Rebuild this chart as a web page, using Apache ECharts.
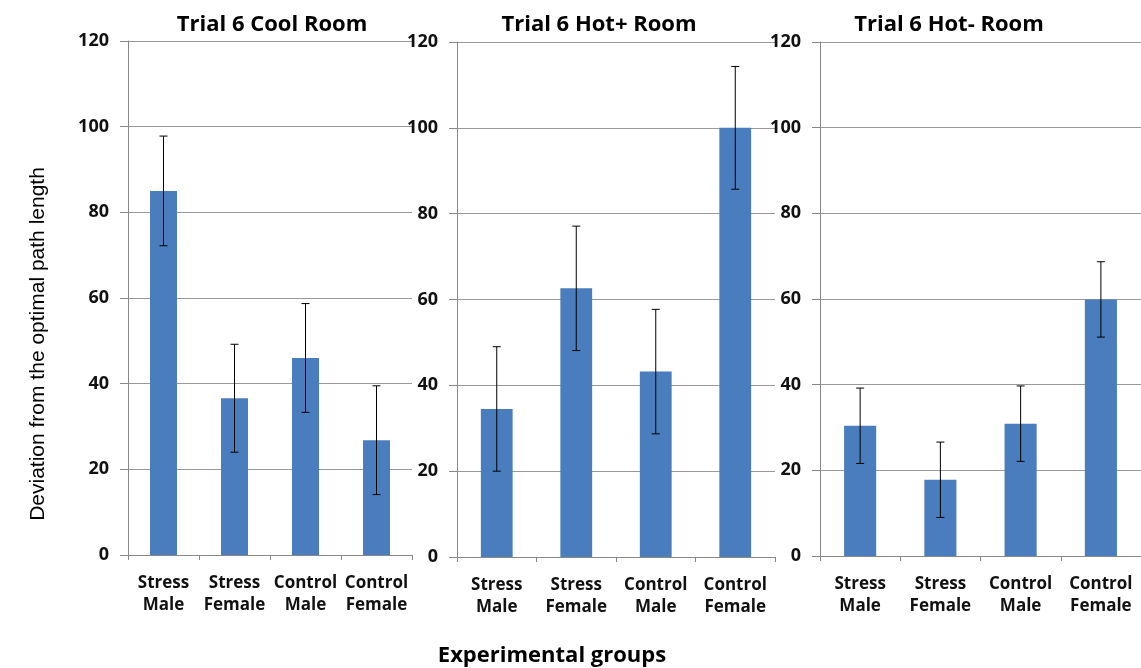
<!DOCTYPE html>
<html>
<head>
<meta charset="utf-8">
<script src="https://cdn.jsdelivr.net/npm/echarts@6/dist/echarts.min.js"></script>
<style>
  html, body { margin: 0; padding: 0; background: #fff; }
  #main { width: 1141px; height: 668px; }
</style>
</head>
<body>
<div id="main"></div>
<script>
/* data */
var groups = ['Stress\nMale', 'Stress\nFemale', 'Control\nMale', 'Control\nFemale'];
var panelTitles = ['Trial 6 Cool Room', 'Trial 6 Hot+ Room', 'Trial 6 Hot- Room'];

var coolMean = [85, 36.6, 46, 26.8];
var coolErr  = [12.8, 12.6, 12.7, 12.7];

var hotPlusMean = [34.5, 62.6, 43.2, 100];
var hotPlusErr  = [14.5, 14.5, 14.5, 14.3];

var hotMinusMean = [30.4, 17.8, 30.9, 59.9];
var hotMinusErr  = [8.8, 8.8, 8.8, 8.8];

var yTicks = [0, 20, 40, 60, 80, 100, 120];

var means = [coolMean, hotPlusMean, hotMinusMean];
var errs = [coolErr, hotPlusErr, hotMinusErr];

/* layout of the three panels */
var grids = [
  { left: 128, top: 41, width: 284, height: 514 },
  { left: 457, top: 42, width: 318, height: 515 },
  { left: 820, top: 42, width: 321, height: 514 }
];
var barWidths = ['38%', '40%', '40%'];
var titleCenter = [272, 599, 949];

var font = '"Open Sans", "Liberation Sans", sans-serif';
var barColor = '#4a7dbd';

function errorData(m, e) {
  return m.map(function (v, i) {
    return [i, v - e[i], v + e[i]];
  });
}

function renderErr(params, api) {
  var lo = api.coord([api.value(0), api.value(1)]);
  var hi = api.coord([api.value(0), api.value(2)]);
  var cap = 4;
  var st = { stroke: '#000', lineWidth: 1 };
  return {
    type: 'group',
    children: [
      { type: 'line', shape: { x1: hi[0], y1: hi[1], x2: lo[0], y2: lo[1] }, style: st },
      { type: 'line', shape: { x1: hi[0] - cap, y1: hi[1], x2: hi[0] + cap, y2: hi[1] }, style: st },
      { type: 'line', shape: { x1: lo[0] - cap, y1: lo[1], x2: lo[0] + cap, y2: lo[1] }, style: st }
    ]
  };
}

var xAxes = [], yAxes = [], series = [], texts = [];

for (var p = 0; p < 3; p++) {
  texts.push({
    type: 'text',
    x: titleCenter[p],
    y: 25,
    style: {
      text: panelTitles[p],
      font: 'bold 22px ' + font,
      fill: '#000',
      align: 'center',
      verticalAlign: 'middle'
    }
  });

  xAxes.push({
    type: 'category',
    gridIndex: p,
    data: groups,
    axisLine: { lineStyle: { color: '#888', width: 1 } },
    axisTick: { show: true, length: 5, lineStyle: { color: '#888' } },
    axisLabel: {
      interval: 0,
      margin: 17,
      fontFamily: font,
      fontWeight: 'bold',
      fontSize: 17,
      lineHeight: 22,
      color: '#111'
    }
  });

  yAxes.push({
    type: 'value',
    gridIndex: p,
    min: 0,
    max: 120,
    interval: 20,
    axisLine: { show: true, lineStyle: { color: '#888', width: 1 } },
    axisTick: { show: true, length: 8, lineStyle: { color: '#888' } },
    splitLine: { show: true, lineStyle: { color: '#999', width: 1 } },
    axisLabel: {
      margin: 19,
      fontFamily: font,
      fontWeight: 'bold',
      fontSize: 18,
      color: '#111',
      customValues: yTicks
    }
  });

  series.push({
    type: 'bar',
    xAxisIndex: p,
    yAxisIndex: p,
    data: means[p],
    barWidth: barWidths[p],
    itemStyle: { color: barColor },
    silent: true
  });

  series.push({
    type: 'custom',
    xAxisIndex: p,
    yAxisIndex: p,
    renderItem: renderErr,
    data: errorData(means[p], errs[p]),
    encode: { x: 0, y: [1, 2] },
    clip: false,
    silent: true,
    z: 3
  });
}

/* axis names */
texts.push({
  type: 'text',
  x: 38,
  y: 344,
  rotation: Math.PI / 2,
  style: {
    text: 'Deviation from the optimal path length',
    font: '21px "Liberation Sans", Arial, sans-serif',
    fill: '#000',
    align: 'center',
    verticalAlign: 'middle'
  }
});
texts.push({
  type: 'text',
  x: 552,
  y: 656,
  style: {
    text: 'Experimental groups',
    font: 'bold 22px ' + font,
    fill: '#000',
    align: 'center',
    verticalAlign: 'middle'
  }
});

var myChart = echarts.init(document.getElementById('main'));
var option = {
  backgroundColor: '#fff',
  animation: false,
  grid: grids,
  xAxis: xAxes,
  yAxis: yAxes,
  graphic: texts,
  series: series
};
myChart.setOption(option);
</script>
</body>
</html>
